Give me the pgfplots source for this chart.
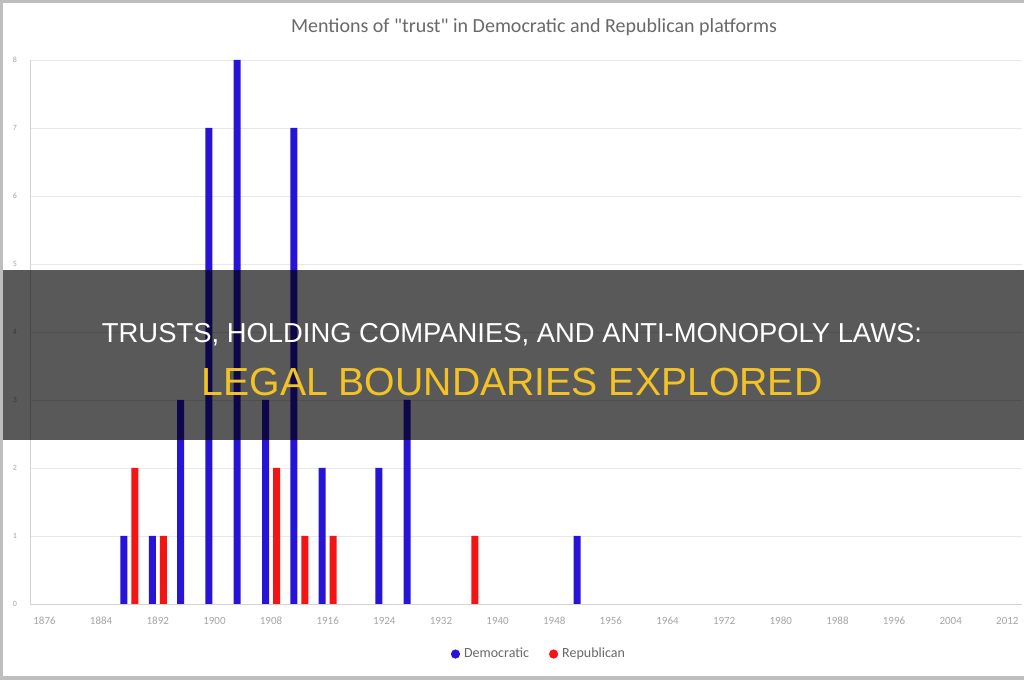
\documentclass[border=0pt]{standalone}
\usepackage{pgfplots}
\pgfplotsset{compat=1.18}
\usepackage{pgfplotstable}
\usepackage{fontspec}
\setmainfont{Carlito}
\newfontfamily\titlefont{Carlito}[Ligatures=TeXOff]
\newfontfamily\overlayfont{Liberation Sans}
\definecolor{demblue}{RGB}{40,20,215}
\definecolor{repred}{RGB}{245,20,20}
\definecolor{titlegray}{RGB}{105,105,105}
\definecolor{tickgray}{RGB}{165,165,165}
\definecolor{gridgray}{RGB}{232,232,232}
\definecolor{bandyellow}{RGB}{243,194,36}
\definecolor{framegray}{RGB}{190,190,190}

\pgfplotstableread{
year dem
1888 1
1892 1
1896 3
1900 7
1904 8
1908 3
1912 7
1916 2
1924 2
1928 3
1952 1
}\demtable
\pgfplotstableread{
year rep
1888 2
1892 1
1908 2
1912 1
1916 1
1936 1
}\reptable

\begin{document}
\begin{tikzpicture}
\useasboundingbox (0,0) rectangle (512pt,340pt);
\fill[white] (0,0) rectangle (512pt,340pt);
\begin{axis}[
  at={(15pt,38pt)}, anchor=south west,
  scale only axis, width=496pt, height=272pt,
  xmin=1873.95, xmax=2014.07, ymin=0, ymax=8,
  ybar, bar width=3.5pt,
  axis x line*=bottom, axis y line*=left,
  axis line style={-, draw=gridgray!80!gray},
  xtick={1876,1884,...,2012}, ytick={0,1,...,8},
  major tick length=0pt,
  ymajorgrids, grid style={draw=gridgray},
  /pgf/number format/assume math mode=true,
  /pgf/number format/1000 sep={},
  xticklabel style={font=\fontsize{5.5}{6}\selectfont, text=tickgray, yshift=-3pt},
  yticklabel style={font=\fontsize{4}{5}\selectfont, text=tickgray, xshift=-3pt},
  legend columns=2,
  legend style={at={(0.514,-0.092)}, anchor=center, draw=none, fill=none,
    font=\fontsize{7}{8}\selectfont, text=titlegray,
    /tikz/every even column/.append style={column sep=8pt}},
  legend image code/.code={\fill[#1] (0.1cm,0cm) circle (2.3pt);},
]
\addplot[fill=demblue, draw=none, bar shift=-2.75pt] table[x=year,y=dem]{\demtable};
\addplot[fill=repred, draw=none, bar shift=2.75pt] table[x=year,y=rep]{\reptable};
\legend{Democratic, Republican}
\end{axis}
\node[text=titlegray, font=\titlefont\fontsize{10}{11}\selectfont] at (267pt,326.5pt) {Mentions of "trust" in Democratic and Republican platforms};
\fill[black, opacity=0.65] (0,120pt) rectangle (512pt,205pt);
\node[text=white, font=\overlayfont\fontsize{13.7}{15}\selectfont] at (256pt,172.5pt) {TRUSTS, HOLDING COMPANIES, AND ANTI-MONOPOLY LAWS:};
\node[text=bandyellow, font=\overlayfont\fontsize{19.6}{21}\selectfont] at (256pt,149pt) {LEGAL BOUNDARIES EXPLORED};
\fill[framegray] (0,0) rectangle (512pt,2pt);
\fill[framegray] (0,338.5pt) rectangle (512pt,340pt);
\fill[framegray] (0,0) rectangle (1.6pt,340pt);
\end{tikzpicture}
\end{document}
